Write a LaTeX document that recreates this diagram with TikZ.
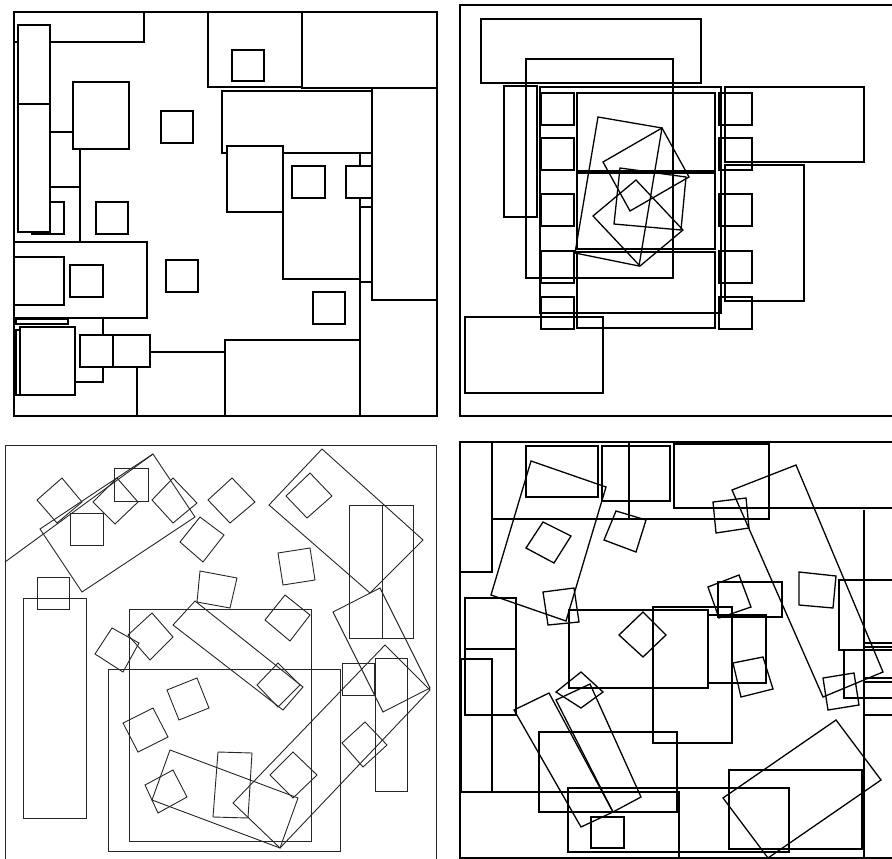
\documentclass[tikz,border=0pt]{standalone}
\usetikzlibrary{calc}

\tikzset{
  box/.style={draw=black, line width=1.3pt, line join=miter},
  cover/.style={box, fill=white},
  thinbox/.style={draw=black!85, line width=0.9pt, line join=miter}
}

\begin{document}
\begin{tikzpicture}[x=1pt, y=-1pt]
  \useasboundingbox (0,0) rectangle (892,859);

  % ---- top left: packed squares ----
  \draw[box] (14,12) rectangle (437,416);
  \draw[box] (14,12) rectangle (144,42);
  \draw[box] (208,12) rectangle (302,87);
  \draw[box] (232,50) rectangle (264,81);
  \draw[box] (302,12) rectangle (437,88);
  \draw[box] (372,88) rectangle (437,300);
  \draw[box] (222,91) rectangle (372,153);
  \draw[box] (283,153) rectangle (360,279);
  \draw[box] (360,153) -- (360,416);
  \draw[box] (360,166) -- (372,166) (360,198) -- (372,198) (360,207) -- (372,207) (360,282) -- (372,282);
  \draw[cover] (346,166) rectangle (372,198);
  \draw[cover] (227,146) rectangle (283,212);
  \draw[box] (292,166) rectangle (325,198);
  \draw[box] (313,292) rectangle (345,324);
  \draw[box] (225,340) rectangle (360,416);
  \draw[box] (161,111) rectangle (193,143);
  \draw[box] (73,82) rectangle (129,149);
  \draw[box] (50,132) -- (73,132);
  \draw[box] (80,149) -- (80,242);
  \draw[box] (48,187) -- (80,187);
  \draw[box] (32,202) rectangle (64,234);
  \draw[cover] (18,104) rectangle (50,232);
  \draw[cover] (18,25) rectangle (50,104);
  \draw[box] (96,202) rectangle (128,234);
  \draw[box] (14,242) rectangle (147,318);
  \draw[box] (14,257) rectangle (64,305);
  \draw[box] (70,265) rectangle (103,297);
  \draw[box] (166,260) rectangle (198,292);
  \draw[box] (16,319) rectangle (68,324);
  \draw[box] (16,330) rectangle (70,395);
  \draw[cover] (20,327) rectangle (75,395);
  \draw[box] (103,318) -- (103,335);
  \draw[box] (75,382) -- (103,382) -- (103,367);
  \draw[box] (80,335) rectangle (113,367);
  \draw[box] (113,335) rectangle (150,367);
  \draw[box] (150,352) -- (225,352);
  \draw[box] (137,367) -- (137,416);

  % ---- top right: stacked frames ----
  \draw[box] (460,5) rectangle (900,416);
  \draw[box] (481,19) rectangle (701,83);
  \draw[box] (526,59) rectangle (673,278);
  \draw[box] (504,86) rectangle (537,217);
  \draw[box] (540,87) rectangle (721,313);
  \draw[box] (577,93) rectangle (715,171);
  \draw[box] (577,173) rectangle (715,249);
  \draw[box] (577,252) rectangle (715,328);
  \foreach \yy in {93,138,194,251,297} {
    \draw[box] (541,\yy) rectangle ++(33,32);
    \draw[box] (719,\yy) rectangle ++(33,32);
  }
  \draw[box] (725,87) rectangle (864,162);
  \draw[box] (725,165) rectangle (804,301);
  \draw[box] (465,317) rectangle (603,393);
  \draw[box] (598,117) -- (662,128) -- (639,266) -- (575,253) -- cycle;
  \draw[box] (662,128) -- (603,162) -- (630,211) -- (689,177) -- cycle;
  \draw[box] (636,180) -- (593,216) -- (640,266) -- (683,230) -- cycle;
  \draw[box] (620,168) -- (686,177) -- (681,230) -- (614,224) -- cycle;

  % ---- bottom left: rotated pieces ----
  \begin{scope}[thinbox]
  \draw (5,445) rectangle (436,870);
  \draw (23,598) rectangle (86,818);
  \draw (37,577) rectangle (69,609);
  \draw (129,609) rectangle (311,841);
  \draw (108,669) rectangle (340,851);
  \draw (349,505) rectangle (413,638);
  \draw (382,505) -- (382,638);
  \draw (375,658) rectangle (407,791);
  \draw (342,663) rectangle (374,695);
  \draw (114,468) rectangle (148,501);
  \draw (70,513) rectangle (103,545);
  \draw (173,625) -- (195,601) -- (303,687) -- (283,710) -- cycle;
  \draw (128,635) -- (152,613) -- (173,637) -- (150,660) -- cycle;
  \draw (95,654) -- (112,628) -- (139,643) -- (123,672) -- cycle;
  \draw (200,571) -- (237,578) -- (230,608) -- (197,602) -- cycle;
  \draw (265,620) -- (285,595) -- (310,615) -- (290,641) -- cycle;
  \draw (278,553) -- (310,548) -- (315,580) -- (283,585) -- cycle;
  \draw (257,685) -- (278,663) -- (300,685) -- (278,707) -- cycle;
  \draw (167,690) -- (197,678) -- (209,708) -- (179,720) -- cycle;
  \draw (123,723) -- (153,708) -- (168,737) -- (138,752) -- cycle;
  \draw (145,785) -- (173,770) -- (187,797) -- (158,813) -- cycle;
  \draw (170,750) -- (298,798) -- (280,848) -- (152,800) -- cycle;
  \draw (218,752) -- (252,753) -- (248,818) -- (213,817) -- cycle;
  \draw (270,775) -- (293,752) -- (317,775) -- (293,798) -- cycle;
  \draw (342,743) -- (365,722) -- (387,745) -- (363,767) -- cycle;
  \draw (333,612) -- (380,588) -- (430,688) -- (383,712) -- cycle;
  \draw (233,803) -- (385,645) -- (430,690) -- (280,848) -- cycle;
  \draw (37,500) -- (62,478) -- (82,502) -- (57,523) -- cycle;
  \draw (93,502) -- (117,478) -- (138,502) -- (115,524) -- cycle;
  \draw (152,500) -- (173,478) -- (197,503) -- (173,523) -- cycle;
  \draw (208,500) -- (232,478) -- (255,502) -- (230,523) -- cycle;
  \draw (269,505) -- (322,449) -- (423,540) -- (370,593) -- cycle;
  \draw (286,496) -- (310,473) -- (332,496) -- (307,518) -- cycle;
  \draw (180,542) -- (200,517) -- (224,535) -- (203,562) -- cycle;
  \draw (40,529) -- (153,454) -- (195,517) -- (82,592) -- cycle;
  \draw (5,562) -- (153,454);
  \end{scope}

  % ---- bottom right: mixed ----
  \draw[box] (460,442) rectangle (900,858);
  \draw[box] (526,446) rectangle (598,497);
  \draw[box] (492,442) rectangle (769,519);
  \draw[box] (629,442) -- (629,519);
  \draw[box] (602,446) rectangle (670,501);
  \draw[box] (674,444) rectangle (769,508);
  \draw[box] (769,508) -- (900,508);
  \draw[box] (864,510) -- (864,860);
  \draw[box] (492,519) -- (492,572) -- (460,572);
  \draw[box] (531,461) -- (606,487) -- (566,621) -- (491,595) -- cycle;
  \draw[box] (526,548) -- (543,522) -- (571,536) -- (554,563) -- cycle;
  \draw[box] (604,540) -- (616,511) -- (646,520) -- (636,552) -- cycle;
  \draw[box] (713,502) -- (746,498) -- (749,528) -- (716,533) -- cycle;
  \draw[box] (732,490) -- (796,465) -- (883,672) -- (823,697) -- cycle;
  \draw[box] (465,598) rectangle (516,649);
  \draw[box] (465,649) rectangle (516,715);
  \draw[box] (461,659) rectangle (492,792);
  \draw[box] (460,792) -- (679,792) -- (679,858);
  \draw[box] (569,610) rectangle (708,688);
  \draw[box] (653,607) rectangle (732,743);
  \draw[box] (708,615) rectangle (766,683);
  \draw[box] (718,582) rectangle (782,617);
  \draw[box] (708,587) -- (739,575) -- (751,607) -- (719,618) -- cycle;
  \draw[box] (733,663) -- (763,657) -- (773,689) -- (741,697) -- cycle;
  \draw[box] (799,572) -- (836,576) -- (833,608) -- (799,605) -- cycle;
  \draw[box] (619,635) -- (643,612) -- (666,635) -- (643,657) -- cycle;
  \draw[box] (543,592) -- (574,588) -- (579,622) -- (548,625) -- cycle;
  \draw[box] (839,580) rectangle (900,650);
  \draw[box] (844,650) rectangle (900,698);
  \draw[box] (864,643) -- (900,643) (864,647) -- (900,647) (864,678) -- (900,678) (864,682) -- (900,682);
  \draw[box] (823,678) -- (854,673) -- (859,705) -- (828,710) -- cycle;
  \draw[box] (514,710) -- (549,693) -- (613,812) -- (581,827) -- cycle;
  \draw[box] (556,700) -- (590,684) -- (641,797) -- (613,812) -- cycle;
  \draw[box] (556,692) -- (581,672) -- (603,692) -- (581,708) -- cycle;
  \draw[box] (539,732) rectangle (677,812);
  \draw[box] (568,788) rectangle (789,852);
  \draw[box] (591,817) rectangle (624,848);
  \draw[box] (729,770) rectangle (862,849);
  \draw[box] (723,798) -- (836,720) -- (881,780) -- (768,858) -- cycle;
  \draw[box] (864,715) -- (900,715);
\end{tikzpicture}
\end{document}
